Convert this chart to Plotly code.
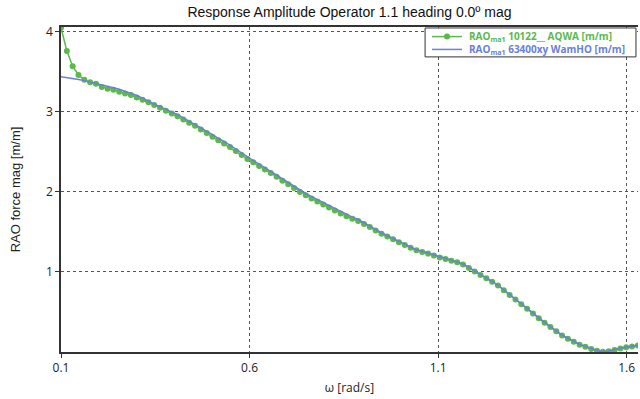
import plotly.graph_objects as go

omega = [0.1000, 0.1155, 0.1309, 0.1464, 0.1618, 0.1773, 0.1927, 0.2082, 0.2236, 0.2391,
         0.2545, 0.2700, 0.2854, 0.3009, 0.3163, 0.3318, 0.3472, 0.3627, 0.3781, 0.3936,
         0.4090, 0.4245, 0.4399, 0.4554, 0.4708, 0.4863, 0.5017, 0.5172, 0.5326, 0.5481,
         0.5635, 0.5790, 0.5944, 0.6099, 0.6253, 0.6408, 0.6562, 0.6717, 0.6871, 0.7026,
         0.7180, 0.7335, 0.7489, 0.7644, 0.7798, 0.7953, 0.8107, 0.8262, 0.8416, 0.8571,
         0.8725, 0.8880, 0.9034, 0.9189, 0.9343, 0.9498, 0.9652, 0.9807, 0.9961, 1.0116,
         1.0270, 1.0425, 1.0579, 1.0734, 1.0888, 1.1043, 1.1197, 1.1352, 1.1506, 1.1661,
         1.1815, 1.1970, 1.2124, 1.2279, 1.2433, 1.2588, 1.2742, 1.2897, 1.3051, 1.3206,
         1.3360, 1.3515, 1.3669, 1.3824, 1.3978, 1.4133, 1.4287, 1.4442, 1.4596, 1.4751,
         1.4905, 1.5060, 1.5214, 1.5369, 1.5523, 1.5678, 1.5832, 1.5987, 1.6141, 1.6296]

rao_aqwa = [4.05, 3.76, 3.57, 3.46, 3.40, 3.37, 3.35, 3.31, 3.29, 3.275,
            3.25, 3.23, 3.21, 3.18, 3.15, 3.12, 3.085, 3.05, 3.015, 2.98,
            2.945, 2.905, 2.865, 2.825, 2.78, 2.735, 2.69, 2.645, 2.605, 2.56,
            2.51, 2.46, 2.41, 2.37, 2.325, 2.28, 2.235, 2.19, 2.14, 2.095,
            2.05, 2.0, 1.958, 1.918, 1.88, 1.843, 1.806, 1.768, 1.73, 1.697,
            1.665, 1.635, 1.6, 1.56, 1.518, 1.478, 1.442, 1.407, 1.372, 1.338,
            1.303, 1.27, 1.25, 1.23, 1.206, 1.182, 1.162, 1.14, 1.12, 1.093,
            1.05, 1.006, 0.962, 0.921, 0.879, 0.831, 0.771, 0.711, 0.655, 0.595,
            0.54, 0.481, 0.423, 0.365, 0.311, 0.258, 0.205, 0.167, 0.128, 0.092,
            0.065, 0.039, 0.015, 0.003, 0.008, 0.025, 0.043, 0.058, 0.07, 0.08]

rao_wamho = [3.44, 3.43, 3.418, 3.405, 3.39, 3.37, 3.355, 3.337, 3.32, 3.30,
             3.283, 3.26, 3.235, 3.205, 3.17, 3.13, 3.095, 3.065, 3.035, 3.00,
             2.965, 2.925, 2.885, 2.845, 2.80, 2.757, 2.715, 2.67, 2.63, 2.585,
             2.535, 2.485, 2.437, 2.392, 2.347, 2.30, 2.257, 2.21, 2.163, 2.116,
             2.07, 2.022, 1.98, 1.94, 1.903, 1.865, 1.828, 1.79, 1.752, 1.717,
             1.685, 1.655, 1.617, 1.575, 1.532, 1.49, 1.452, 1.417, 1.382, 1.347,
             1.312, 1.278, 1.258, 1.238, 1.214, 1.19, 1.17, 1.148, 1.127, 1.10,
             1.056, 1.012, 0.968, 0.927, 0.885, 0.837, 0.777, 0.717, 0.66, 0.60,
             0.545, 0.486, 0.428, 0.37, 0.316, 0.263, 0.21, 0.172, 0.133, 0.097,
             0.07, 0.044, 0.02, 0.007, 0.012, 0.03, 0.048, 0.062, 0.073, 0.082]

series_names = ["RAO<sub>ma1</sub> 10122__ AQWA [m/m]",
                "RAO<sub>ma1</sub> 63400xy WamHO [m/m]"]
x_ticks = [0.1, 0.6, 1.1, 1.6]
y_ticks = [1, 2, 3, 4]

GREEN = "#5cb84c"
BLUE = "#6a80d8"

fig = go.Figure()
fig.add_trace(go.Scatter(
    x=omega, y=rao_aqwa, mode="lines+markers", name=series_names[0],
    line=dict(color=GREEN, width=1.5),
    marker=dict(color=GREEN, size=6),
))
fig.add_trace(go.Scatter(
    x=omega, y=rao_wamho, mode="lines", name=series_names[1],
    line=dict(color=BLUE, width=1.5),
))

fig.update_layout(
    width=640, height=399,
    margin=dict(l=61, r=2, t=27, b=47),
    paper_bgcolor="white", plot_bgcolor="white",
    title=dict(text="Response Amplitude Operator 1.1 heading 0.0º mag",
               x=0.5, xref="paper", y=0.97, yanchor="middle",
               font=dict(family="Liberation Sans, Arial", size=14, color="#111")),
    showlegend=False,
    font=dict(family="Open Sans", size=12, color="#222"),
)

# compact legend box (top-right, inside plot area)
box_x0, box_x1, box_y0, box_y1 = 0.631, 0.9965, 0.908, 0.997
row_y = [0.9705, 0.931]
sample_x0, sample_x1, text_x = 0.643, 0.695, 0.703
colors = [GREEN, BLUE]
fig.add_shape(type="rect", xref="paper", yref="paper",
              x0=box_x0, x1=box_x1, y0=box_y0, y1=box_y1,
              line=dict(color="#333", width=1), fillcolor="white", layer="above")
for k, (name, col) in enumerate(zip(series_names, colors)):
    fig.add_shape(type="line", xref="paper", yref="paper",
                  x0=sample_x0, x1=sample_x1, y0=row_y[k], y1=row_y[k],
                  line=dict(color=col, width=1.5), layer="above")
    fig.add_annotation(xref="paper", yref="paper", x=text_x, y=row_y[k],
                       xanchor="left", yanchor="middle", showarrow=False,
                       text="<b>%s</b>" % name,
                       font=dict(family="Open Sans", size=10, color=col))
fig.add_shape(type="circle", xref="paper", yref="paper",
              xsizemode="pixel", ysizemode="pixel",
              xanchor=(sample_x0 + sample_x1) / 2, yanchor=row_y[0],
              x0=-3, x1=3, y0=-3, y1=3,
              fillcolor=GREEN, line=dict(color=GREEN, width=0), layer="above")

fig.update_layout(xaxis=dict(
    range=[0.1, 1.63], tickvals=x_ticks, ticktext=[str(v) for v in x_ticks],
    showline=True, linecolor="#333", linewidth=1.5, mirror=True,
    ticks="outside", ticklen=4, tickcolor="#333",
    showgrid=True, gridcolor="#555", griddash="dot", gridwidth=1,
    zeroline=False,
    title=dict(text="ω [rad/s]", font=dict(family="Open Sans", size=12), standoff=8),
    tickfont=dict(family="Open Sans", size=12, color="#222"),
))
fig.update_layout(yaxis=dict(
    range=[0, 4.06], tickvals=y_ticks,
    showline=True, linecolor="#333", linewidth=1.5,
    ticks="outside", ticklen=4, tickcolor="#333",
    showgrid=True, gridcolor="#555", griddash="dot", gridwidth=1,
    zeroline=False,
    title=dict(text="RAO force mag [m/m]", font=dict(family="Liberation Sans, Arial", size=13), standoff=22),
    tickfont=dict(family="Open Sans", size=12, color="#222"),
))

fig.write_html("out.html")
